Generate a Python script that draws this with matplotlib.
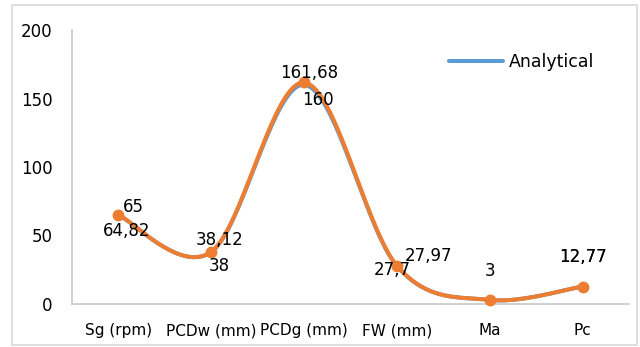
import numpy as np
import matplotlib
matplotlib.use("Agg")
import matplotlib.pyplot as plt
from matplotlib.patches import Rectangle

categories = ["Sg (rpm)", "PCDw (mm)", "PCDg (mm)", "FW (mm)", "Ma", "Pc"]
analytical = [64.82, 38, 160, 27.7, 3, 12.77]
other = [65, 38.12, 161.68, 27.97, 3, 12.77]
analytical_labels = ["64,82", "38", "160", "27,7", "", "12,77"]
other_labels = ["65", "38,12", "161,68", "27,97", "3", "12,77"]

# label offsets in points (dx, dy)
analytical_off = [(6, -11.5), (6, -10), (10, -11), (-3, -3), (0, 21), (0, 21)]
other_off = [(11, 6), (6, 8.5), (4, 7), (23, 7), (0, 21), (0, 21)]

blue = "#5B9BD5"
orange = "#ED7D31"


def smooth(xs, ys, n=40):
    # Excel-like smoothed line (Catmull-Rom as cubic Bezier)
    P = np.column_stack([xs, ys]).astype(float)
    Pe = np.vstack([P[0], P, P[-1]])
    out = []
    t = np.linspace(0, 1, n)[:, None]
    for i in range(len(P) - 1):
        p0, p1, p2, p3 = Pe[i], Pe[i + 1], Pe[i + 2], Pe[i + 3]
        b1 = p1 + (p2 - p0) / 6
        b2 = p2 - (p3 - p1) / 6
        seg = (1 - t) ** 3 * p1 + 3 * (1 - t) ** 2 * t * b1 + 3 * (1 - t) * t ** 2 * b2 + t ** 3 * p2
        out.append(seg if i == 0 else seg[1:])
    return np.vstack(out)


plt.rcParams['font.family'] = ['DejaVu Sans']

fig = plt.figure(figsize=(6.4, 3.47), dpi=100)
ax = fig.add_axes([72 / 640, 1 - 304 / 347, (629 - 72) / 640, (304 - 30) / 347])

x = np.arange(len(categories))
sb = smooth(x, analytical)
so = smooth(x, other)

lb, = ax.plot(sb[:, 0], sb[:, 1], color=blue, lw=2.9, solid_capstyle='round', label="Analytical", zorder=3)
ax.plot(so[:, 0], so[:, 1], color=orange, lw=2.9, solid_capstyle='round', zorder=4)
ax.plot(x, other, 'o', color=orange, ms=7.5, zorder=5, clip_on=False)

for i in range(len(categories)):
    ax.annotate(analytical_labels[i], (x[i], analytical[i]), xytext=analytical_off[i],
                textcoords='offset points', ha='center', va='center', fontsize=12, color='#000000', zorder=6)
    ax.annotate(other_labels[i], (x[i], other[i]), xytext=other_off[i],
                textcoords='offset points', ha='center', va='center', fontsize=12, color='#000000', zorder=6)

ax.set_xlim(-0.5, 5.5)
ax.set_ylim(0, 200)
ax.set_yticks([0, 50, 100, 150, 200])
ax.set_xticks(x)
ax.set_xticklabels(categories)
ax.tick_params(axis='y', length=0, pad=14, labelsize=12)
ax.tick_params(axis='x', length=0, pad=14, labelsize=11)
for s in ['top', 'right']:
    ax.spines[s].set_visible(False)
for s in ['left', 'bottom']:
    ax.spines[s].set_color('#C8C8C8')
    ax.spines[s].set_linewidth(1.2)

ax.legend(handles=[lb], loc='center left', bbox_to_anchor=(449 / 640, 1 - 62 / 347),
          bbox_transform=fig.transFigure, frameon=False, fontsize=12.5,
          handlelength=3.1, handletextpad=0.35, borderpad=0, borderaxespad=0)

fig.patches.append(Rectangle((12 / 640, 1 - 345 / 347), 625 / 640, 340 / 347,
                             transform=fig.transFigure, fill=False, edgecolor='#D9D9D9', lw=1.2))

fig.savefig("out.png", dpi=100, facecolor='white')
